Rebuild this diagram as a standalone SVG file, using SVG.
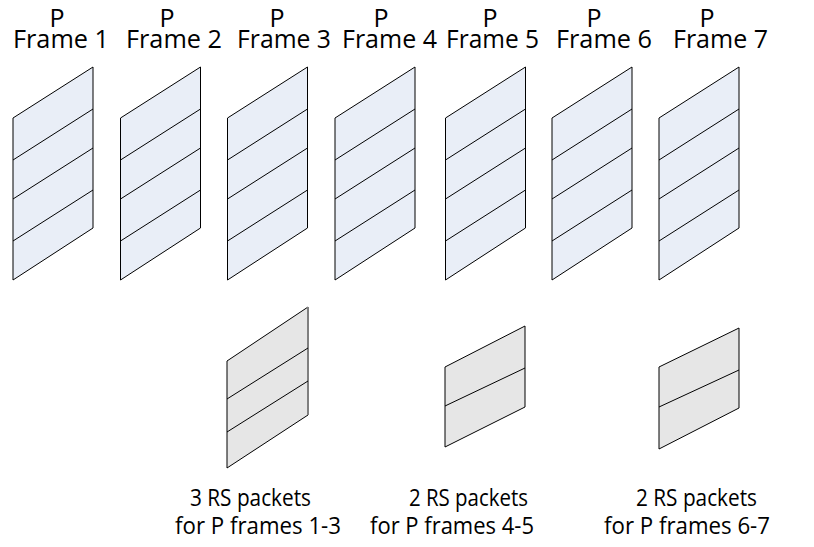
<svg xmlns="http://www.w3.org/2000/svg" width="814" height="547" viewBox="0 0 814 547">
  <style>
    .lbl { font-family: "Open Sans", "Liberation Sans", sans-serif; fill: #000; }
    .top { font-size: 25px; }
    .bot { font-size: 23px; }
    .frame { fill: #e9eef7; stroke: #000; stroke-width: 1; stroke-linejoin: miter; }
    .rs { fill: #e6e6e6; stroke: #000; stroke-width: 1; }
    .div { fill: none; stroke: #000; stroke-width: 1; }
    .edge { fill: none; stroke: #7f7f7f; stroke-width: 2; }
  </style>
  <defs>
    <!-- P frame: slanted sheet split into four slices -->
    <g id="pframe">
      <polygon class="frame" points="0,118 80,67 80,228 0,280"/>
      <line class="div" x1="0" y1="160" x2="80" y2="109"/>
      <line class="div" x1="0" y1="199" x2="80" y2="148"/>
      <line class="div" x1="0" y1="241" x2="80" y2="190"/>
    </g>
  </defs>

  <rect width="814" height="547" fill="#fff"/>

  <!-- P frames -->
  <g id="frame1"><use href="#pframe" x="13"/>
    <text class="lbl top"><tspan x="57" y="27" text-anchor="middle">P</tspan><tspan x="13" y="48" textLength="96" lengthAdjust="spacingAndGlyphs">Frame 1</tspan></text></g>
  <g id="frame2"><use href="#pframe" x="120.5"/>
    <text class="lbl top"><tspan x="167" y="27" text-anchor="middle">P</tspan><tspan x="126" y="48" textLength="96" lengthAdjust="spacingAndGlyphs">Frame 2</tspan></text></g>
  <g id="frame3"><use href="#pframe" x="227.5"/>
    <text class="lbl top"><tspan x="277" y="27" text-anchor="middle">P</tspan><tspan x="237" y="48" textLength="94" lengthAdjust="spacingAndGlyphs">Frame 3</tspan></text></g>
  <g id="frame4"><use href="#pframe" x="335"/>
    <text class="lbl top"><tspan x="381" y="27" text-anchor="middle">P</tspan><tspan x="342" y="48" textLength="95" lengthAdjust="spacingAndGlyphs">Frame 4</tspan></text></g>
  <g id="frame5"><use href="#pframe" x="445.5"/>
    <text class="lbl top"><tspan x="490" y="27" text-anchor="middle">P</tspan><tspan x="446" y="48" textLength="93" lengthAdjust="spacingAndGlyphs">Frame 5</tspan></text></g>
  <g id="frame6"><use href="#pframe" x="552"/>
    <text class="lbl top"><tspan x="594" y="27" text-anchor="middle">P</tspan><tspan x="556" y="48" textLength="96" lengthAdjust="spacingAndGlyphs">Frame 6</tspan></text></g>
  <g id="frame7"><use href="#pframe" x="659"/>
    <text class="lbl top"><tspan x="707" y="27" text-anchor="middle">P</tspan><tspan x="673" y="48" textLength="95" lengthAdjust="spacingAndGlyphs">Frame 7</tspan></text></g>

  <!-- RS parity packets -->
  <g id="rs1">
    <polygon class="rs" points="227,361 308,307 308,415 227,468"/>
    <line class="edge" x1="308" y1="307" x2="308" y2="415"/>
    <line class="div" x1="227" y1="399" x2="308" y2="348"/>
    <line class="div" x1="227" y1="432" x2="308" y2="381"/>
    <text class="lbl bot"><tspan x="190" y="506" textLength="121" lengthAdjust="spacingAndGlyphs">3 RS packets</tspan><tspan x="175" y="534" textLength="166" lengthAdjust="spacingAndGlyphs">for P frames 1-3</tspan></text>
  </g>
  <g id="rs2">
    <polygon class="rs" points="445,367 525,326 525,407 445,447"/>
    <line class="div" x1="445" y1="406" x2="525" y2="368"/>
    <text class="lbl bot"><tspan x="409" y="506" textLength="119" lengthAdjust="spacingAndGlyphs">2 RS packets</tspan><tspan x="370" y="534" textLength="164" lengthAdjust="spacingAndGlyphs">for P frames 4-5</tspan></text>
  </g>
  <g id="rs3">
    <polygon class="rs" points="659,367 739,328 739,408 659,449"/>
    <line class="div" x1="659" y1="407" x2="739" y2="370"/>
    <text class="lbl bot"><tspan x="636" y="506" textLength="121" lengthAdjust="spacingAndGlyphs">2 RS packets</tspan><tspan x="604" y="534" textLength="166" lengthAdjust="spacingAndGlyphs">for P frames 6-7</tspan></text>
  </g>

  <!-- no connectors in this figure -->
  <g id="connectors"/>
</svg>
